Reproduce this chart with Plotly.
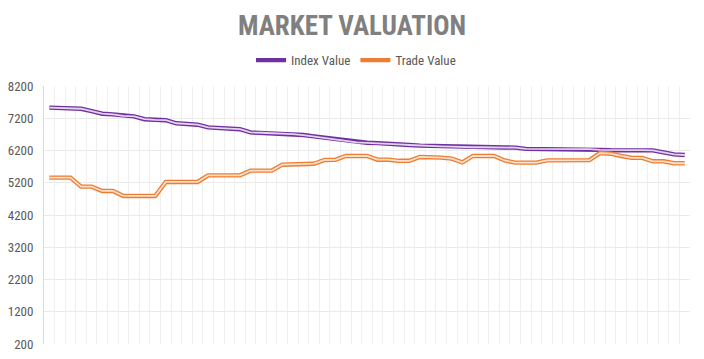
import plotly.graph_objects as go

# ---- data ----
periods = list(range(61))
index_value = [7530, 7520, 7500, 7495, 7420, 7340, 7320, 7275, 7260, 7170,
               7150, 7140, 7045, 7030, 7000, 6915, 6905, 6880, 6860, 6760,
               6750, 6740, 6730, 6710, 6680, 6640, 6600, 6540, 6500, 6450,
               6440, 6430, 6400, 6390, 6370, 6350, 6340, 6330, 6320, 6300,
               6300, 6300, 6300, 6295, 6290, 6250, 6250, 6250, 6250, 6250,
               6245, 6240, 6220, 6210, 6210, 6210, 6210, 6205, 6140, 6080, 6060]
trade_value = [5360, 5360, 5360, 5080, 5080, 4945, 4945, 4790, 4790, 4790,
               4790, 5225, 5225, 5225, 5225, 5430, 5430, 5430, 5430, 5575,
               5575, 5575, 5760, 5770, 5780, 5790, 5905, 5910, 6030, 6030,
               6030, 5915, 5915, 5880, 5880, 6000, 6000, 5980, 5950, 5830,
               6030, 6030, 6030, 5890, 5825, 5825, 5825, 5895, 5895, 5895,
               5895, 5900, 6120, 6100, 6030, 5970, 5970, 5865, 5865, 5805, 5805]
y_ticks = [200, 1200, 2200, 3200, 4200, 5200, 6200, 7200, 8200]

PURPLE = "#7030A0"
PURPLE_LIGHT = "#e4d3ef"
ORANGE = "#ED7D31"
ORANGE_LIGHT = "#fde0cb"
NARROW = "Liberation Sans Narrow, Roboto Condensed, DejaVu Sans Condensed, Arial, sans-serif"

fig = go.Figure()
for name, vals, dark, light in [("Index Value", index_value, PURPLE, PURPLE_LIGHT),
                                ("Trade Value", trade_value, ORANGE, ORANGE_LIGHT)]:
    fig.add_trace(go.Scatter(x=periods, y=vals, mode="lines", name=name,
                             line=dict(color=dark, width=4.4), legendgroup=name))
    fig.add_trace(go.Scatter(x=periods, y=vals, mode="lines", showlegend=False,
                             line=dict(color=light, width=1.8), legendgroup=name,
                             hoverinfo="skip"))

fig.update_layout(
    width=704, height=359,
    margin=dict(l=44, r=14, t=86, b=15, autoexpand=False),
    paper_bgcolor="white", plot_bgcolor="white",
    title=dict(text="<b>MARKET VALUATION</b>", x=0.5, xanchor="center",
               y=0.93, yanchor="middle",
               font=dict(family=NARROW, size=27, color="#808080")),
    legend=dict(orientation="h", x=0.483, xanchor="center", y=1.10, yanchor="middle",
                font=dict(family=NARROW, size=13, color="#595959"),
                bgcolor="rgba(0,0,0,0)", itemwidth=30),
    showlegend=True,
)
fig.update_xaxes(range=[-0.5, 60.5], tick0=0.5, dtick=1, showticklabels=False,
                 showgrid=True, gridcolor="#efefef", gridwidth=1,
                 zeroline=False, showline=False, ticks="", automargin=False)
fig.update_yaxes(range=[200, 8200], tickvals=y_ticks, ticktext=[str(v) for v in y_ticks],
                 showgrid=True, gridcolor="#eaeaea", gridwidth=1,
                 zeroline=False, showline=True, linecolor="#d9d9d9", linewidth=1,
                 tickfont=dict(family=NARROW, size=13, color="#595959"),
                 ticks="", ticklabelstandoff=7, automargin=False)

fig.write_html("out.html", config={"displayModeBar": False},
               post_script="document.body.style.margin='0';document.body.style.overflow='hidden';")
